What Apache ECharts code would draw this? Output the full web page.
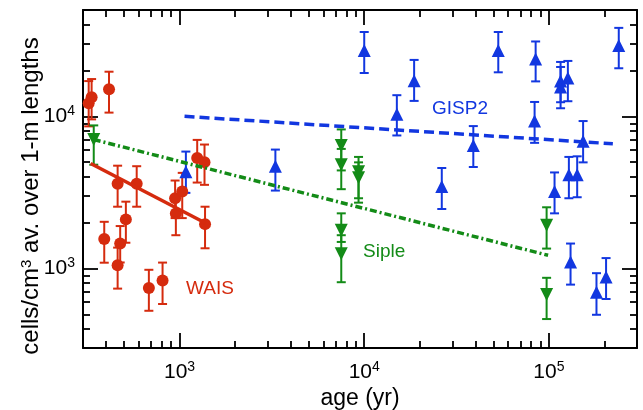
<!DOCTYPE html>
<html>
<head>
<meta charset="utf-8">
<script src="https://cdn.jsdelivr.net/npm/echarts@6/dist/echarts.min.js"></script>
<style>
  html, body { margin: 0; padding: 0; background: #fff; }
  #chart { width: 643px; height: 410px; }
</style>
</head>
<body>
<div id="chart"></div>
<script>
// each row: [age (yr), cells/cm3, lower error, upper error]
var wais = [
    [322, 12200, 8590, 17050], [334, 13360, 9550, 17580], [415, 15090, 10580, 19650],
    [462, 3600, 2546, 4738], [586, 3600, 2546, 4700], [946, 2894, 2143, 3784],
    [1034, 3202, 2143, 4250], [955, 2296, 1654, 2820], [1246, 5327, 3670, 7000],
    [1365, 5000, 3545, 6525], [1374, 1956, 1357, 2546], [391, 1560, 1091, 2026],
    [477, 1458, 1095, 1900], [512, 2102, 1476, 2748], [462, 1051, 737, 1371],
    [682, 745, 527, 980], [809, 833, 584, 1093]
];
var siple = [
    [343, 7040, 4810, 8717], [7510, 6428, 4410, 8202], [7510, 4810, 3320, 6108],
    [9316, 4323, 2894, 5410], [9316, 3945, 2707, 4982], [7510, 1785, 1494, 2303],
    [7510, 1251, 812, 1654], [97200, 1926, 1351, 2524], [97200, 673, 465, 868]
];
var gisp2 = [
    [1082, 4323, 3139, 5865], [3303, 4689, 3251, 6046], [10000, 27070, 19270, 35840],
    [15020, 10310, 7486, 13770], [18630, 17130, 12630, 23490], [26300, 3454, 2459, 4575],
    [38970, 6428, 4646, 8627], [53200, 27070, 19470, 35840], [83670, 9310, 6694, 12430],
    [84770, 23850, 16970, 31050], [107300, 3202, 2303, 4277], [115700, 17050, 12380, 22780],
    [115700, 15560, 11300, 21110], [126700, 17850, 12570, 23130], [128300, 4130, 2894, 5410],
    [142300, 4130, 2939, 5459], [153200, 6860, 4982, 9310], [131000, 1101, 783, 1458],
    [181000, 697, 496, 931], [204000, 878, 630, 1170], [239000, 29220, 20700, 38150]
];
// power-law fits, end points
var waisFit = [[330, 4900], [1380, 1990]];
var sipleFit = [[343, 7040], [99000, 1220]];
var gispFit = [[1064, 10000], [222000, 6600]];

var xMajor = [1000, 10000, 100000];
var xMinor = [400, 500, 600, 700, 800, 900, 2000, 3000, 4000, 5000, 6000, 7000, 8000, 9000,
    20000, 30000, 40000, 50000, 60000, 70000, 80000, 90000, 200000];
var yMajor = [1000, 10000];
var yMinor = [400, 500, 600, 700, 800, 900, 2000, 3000, 4000, 5000, 6000, 7000, 8000, 9000,
    20000, 30000, 40000];

var RED = '#d52b0e', GREEN = '#138b17', BLUE = '#1237e0';
var FONT = 'Liberation Sans, Arial, Helvetica, sans-serif';

var myChart = echarts.init(document.getElementById('chart'));

var rich = {
    a: { fontSize: 21, lineHeight: 24, color: '#000', fontFamily: FONT },
    b: { fontSize: 14, lineHeight: 14, verticalAlign: 'top', color: '#000', fontFamily: FONT }
};
function powLabel(v) {
    return '{a|10}{b|' + Math.round(Math.log10(v)) + '}';
}

function axis(dim, pos, ticks, len, main) {
    var a = {
        type: 'log',
        logBase: 10,
        position: pos,
        min: 300,
        max: dim == 'x' ? 300000 : 50000,
        splitLine: { show: false },
        axisLine: { show: len > 10, lineStyle: { color: '#000', width: 2 } },
        axisTick: { inside: true, length: len, customValues: ticks, lineStyle: { color: '#000', width: 1.8 } },
        axisLabel: { show: false }
    };
    if (main) {
        a.axisLabel = {
            show: true, customValues: ticks, formatter: powLabel, rich: rich,
            margin: dim == 'x' ? 12 : 8
        };
    }
    return a;
}

var xAxes = [
    axis('x', 'bottom', xMajor, 15, true),
    axis('x', 'bottom', xMinor, 7),
    axis('x', 'top', xMajor, 15),
    axis('x', 'top', xMinor, 7)
];
xAxes[0].name = 'age (yr)';
xAxes[0].nameLocation = 'middle';
xAxes[0].nameGap = 31;
xAxes[0].nameTextStyle = { fontSize: 23, color: '#000', fontFamily: FONT };

var yAxes = [
    axis('y', 'left', yMajor, 15, true),
    axis('y', 'left', yMinor, 7),
    axis('y', 'right', yMajor, 15),
    axis('y', 'right', yMinor, 7)
];

function errorBars(color) {
    return function (params, api) {
        var x = api.value(0);
        var lo = api.coord([x, api.value(2)]);
        var hi = api.coord([x, api.value(3)]);
        var w = 4.5;
        var st = { stroke: color, lineWidth: 2 };
        return {
            type: 'group',
            children: [
                { type: 'line', shape: { x1: lo[0], y1: lo[1], x2: hi[0], y2: hi[1] }, style: st },
                { type: 'line', shape: { x1: lo[0] - w, y1: lo[1], x2: lo[0] + w, y2: lo[1] }, style: st },
                { type: 'line', shape: { x1: hi[0] - w, y1: hi[1], x2: hi[0] + w, y2: hi[1] }, style: st }
            ]
        };
    };
}

function bars(data, color) {
    return { type: 'custom', renderItem: errorBars(color), encode: { x: 0, y: [2, 3] }, data: data, silent: true, z: 2 };
}
function points(data, color, symbol, size, rotate) {
    return {
        type: 'scatter', symbol: symbol, symbolSize: size, symbolRotate: rotate || 0,
        itemStyle: { color: color, opacity: 1 }, data: data.map(function (d) { return [d[0], d[1]]; }), z: 3
    };
}
function fit(data, color, dash) {
    return {
        type: 'line', data: data, showSymbol: false, symbol: 'none', z: 4,
        lineStyle: { color: color, width: 3.5, type: dash }
    };
}

var option = {
    animation: false,
    grid: { left: 83, right: 6, top: 10, bottom: 62, outerBoundsMode: 'none', containLabel: false },
    xAxis: xAxes,
    yAxis: yAxes,
    series: [
        bars(wais, RED), points(wais, RED, 'circle', 12),
        bars(siple, GREEN), points(siple, GREEN, 'triangle', 13, 180),
        bars(gisp2, BLUE), points(gisp2, BLUE, 'triangle', 13),
        fit(waisFit, RED, 'solid'),
        fit(sipleFit, GREEN, [7, 3, 2, 3]),
        fit(gispFit, BLUE, [10, 5])
    ],
    graphic: [
        {
            type: 'text', x: 31, y: 196, rotation: Math.PI / 2,
            style: {
                text: 'cells/cm{s|3} av. over 1-m lengths', fontSize: 24, fill: '#000', fontFamily: FONT,
                align: 'center', verticalAlign: 'middle',
                rich: { s: { fontSize: 15, lineHeight: 15, verticalAlign: 'top', fill: '#000', fontFamily: FONT } }
            }
        },
        { type: 'text', left: 186, top: 279, style: { text: 'WAIS', fontSize: 19, fill: RED, fontFamily: FONT } },
        { type: 'text', left: 363, top: 242, style: { text: 'Siple', fontSize: 19, fill: GREEN, fontFamily: FONT } },
        { type: 'text', left: 432, top: 99, style: { text: 'GISP2', fontSize: 19, fill: BLUE, fontFamily: FONT } }
    ]
};
myChart.setOption(option);
window.addEventListener('resize', function () {
    myChart.resize();
});
</script>
</body>
</html>
